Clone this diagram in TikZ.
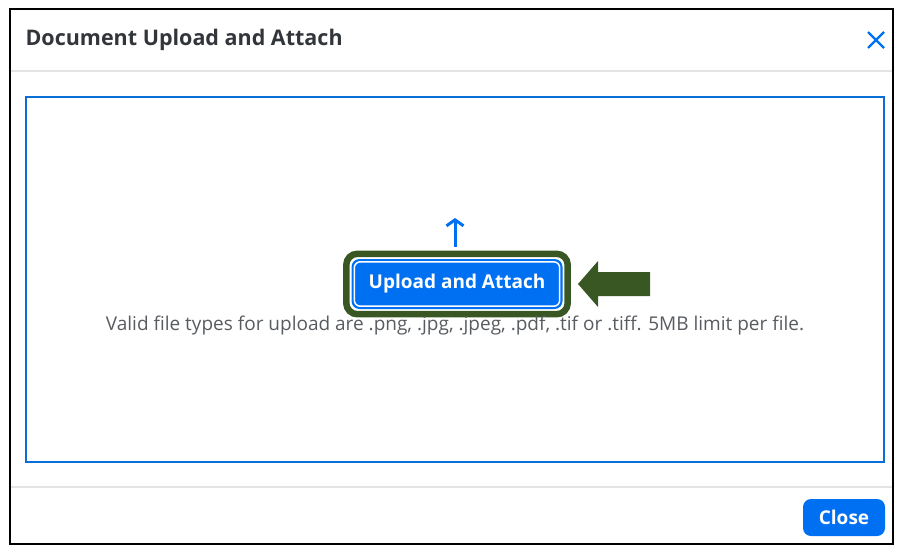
\documentclass[tikz,border=0pt]{standalone}
\usepackage{fontspec}
\setmainfont{Open Sans}
\usepackage{xcolor}
\usetikzlibrary{arrows.meta, positioning, calc}

\definecolor{sapblue}{RGB}{0,112,242}
\definecolor{zoneblue}{RGB}{11,110,214}
\definecolor{markgreen}{RGB}{56,87,35}
\definecolor{titlegray}{RGB}{50,54,58}
\definecolor{hintgray}{RGB}{88,92,97}
\definecolor{rulegray}{RGB}{228,228,228}

\begin{document}
\begin{tikzpicture}[x=1pt, y=-1pt,
  bluebtn/.style={fill=sapblue, rounded corners=8pt, text=white, inner sep=0pt,
    font=\bfseries\fontsize{19}{22}\selectfont},
  sepline/.style={rulegray, line width=1.5pt}]
\useasboundingbox (0,0) rectangle (899,550);

% Dialog frame
\draw[black, line width=2.5pt] (10,9) rectangle (893,544);

% Header
\node[anchor=west, text=titlegray, font=\bfseries\fontsize{21.5}{24}\selectfont] (title) at (22,40) {Document Upload and Attach};
\coordinate (closex) at (876,40);
\draw[sapblue, line width=2.2pt] ($(closex)+(-8,-8)$) -- ($(closex)+(8,8)$);
\draw[sapblue, line width=2.2pt] ($(closex)+(-8,8)$) -- ($(closex)+(8,-8)$);
\draw[sepline] (11,71) -- (892,71);

% Drop zone
\draw[zoneblue, line width=2.5pt] (26,97) rectangle (884,462);

% Upload button with highlight
\node[bluebtn, minimum width=211pt, minimum height=50pt] (upload) at (457,284) {Upload and Attach};
\draw[white, line width=1.5pt, rounded corners=6pt] ($(upload.north west)+(3,3)$) rectangle ($(upload.south east)+(-3,-3)$);
\draw[markgreen, line width=6.5pt, rounded corners=11pt] ($(upload.north west)+(-5,-5)$) rectangle ($(upload.south east)+(5,5)$);
\coordinate (icontop) at (455,218);
\draw[-{Straight Barb[length=6pt,width=17pt]}, sapblue, line width=3pt] ($(icontop)+(0,29)$) -- (icontop);

% Pointer arrow
\coordinate (tip) at (578,284);
\fill[markgreen] (tip) -- ++(20,-23) -- ++(0,11) -- ++(52,0) -- ++(0,24) -- ++(-52,0) -- ++(0,11) -- cycle;

% Hint text
\node[text=hintgray, font=\fontsize{19}{22}\selectfont] (hint) at (455,326) {Valid file types for upload are .png, .jpg, .jpeg, .pdf, .tif or .tiff. 5MB limit per file.};

% Footer
\draw[sepline] (11,487) -- (892,487);
\node[bluebtn, minimum width=82pt, minimum height=37pt] (close) at (844,517.5) {Close};
\end{tikzpicture}
\end{document}
